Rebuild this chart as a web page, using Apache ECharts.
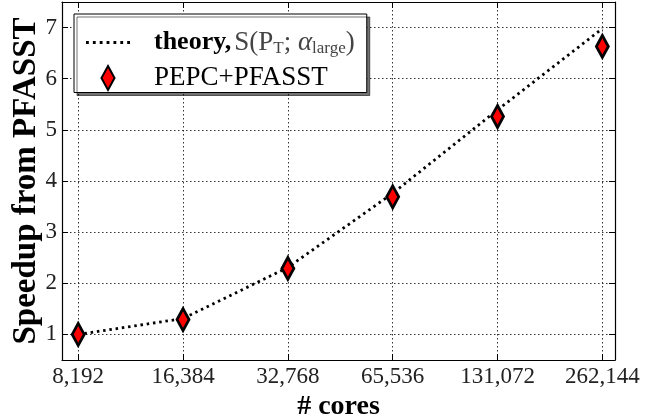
<!DOCTYPE html>
<html>
<head>
<meta charset="utf-8">
<script src="https://cdn.jsdelivr.net/npm/echarts@6/dist/echarts.min.js"></script>
<style>
  html, body { margin: 0; padding: 0; background: #fff; }
  #chart { width: 660px; height: 416px; }
</style>
</head>
<body>
<div id="chart"></div>
<script>
// values
const cores = [8192, 16384, 32768, 65536, 131072, 262144];
const theorySpeedup = [1.0, 1.31, 2.31, 3.76, 5.39, 6.98];
const measuredSpeedup = [1.0, 1.29, 2.29, 3.69, 5.26, 6.63];

const FONT = '"Liberation Serif", "DejaVu Serif", serif';
const DIAMOND = 'path://M6,0L12,11L6,22L0,11Z';
// dotted legend sample for the theory curve
const DOTS = 'path://M0,0h2.6v2.6h-2.6zM6.3,0h2.6v2.6h-2.6zM12.6,0h2.6v2.6h-2.6zM18.9,0h2.6v2.6h-2.6z' +
  'M25.2,0h2.6v2.6h-2.6zM31.5,0h2.6v2.6h-2.6zM37.8,0h2.6v2.6h-2.6z';

function fmtCores(v) {
  return Math.round(v).toLocaleString('en-US');
}

function xAxis(position, main) {
  return {
    type: 'log',
    logBase: 2,
    min: 7360,
    max: 285000,
    position: position,
    name: main ? '# cores' : '',
    nameLocation: 'middle',
    nameGap: 23,
    nameTextStyle: { fontFamily: FONT, fontSize: 28, fontWeight: 'bold', color: '#000' },
    axisLine: { show: true, onZero: false, lineStyle: { color: '#000', width: 1.2 } },
    axisTick: { show: true, inside: true, length: 6, lineStyle: { color: '#000', width: 1 } },
    axisLabel: {
      show: main,
      showMinLabel: false,
      showMaxLabel: false,
      margin: 5,
      fontFamily: FONT,
      fontSize: 23,
      color: '#222',
      formatter: fmtCores
    },
    splitLine: {
      show: main,
      showMinLine: false,
      showMaxLine: false,
      lineStyle: { color: '#333', width: 1, type: [1.5, 2.5] }
    }
  };
}

function yAxis(position, main) {
  return {
    type: 'value',
    min: 0.5,
    max: 7.5,
    splitNumber: 7,
    position: position,
    name: main ? 'Speedup from PFASST' : '',
    nameLocation: 'middle',
    nameGap: 19,
    nameMoveOverlap: false,
    nameTextStyle: { fontFamily: FONT, fontSize: 33, fontWeight: 'bold', color: '#000' },
    axisLine: { show: true, onZero: false, lineStyle: { color: '#000', width: 1.2 } },
    axisTick: { show: true, inside: true, length: 6, lineStyle: { color: '#000', width: 1 } },
    axisLabel: {
      show: main,
      showMinLabel: false,
      showMaxLabel: false,
      margin: 5,
      fontFamily: FONT,
      fontSize: 23,
      color: '#222'
    },
    splitLine: {
      show: main,
      showMinLine: false,
      showMaxLine: false,
      lineStyle: { color: '#333', width: 1, type: [1.5, 2.5] }
    }
  };
}

const chart = echarts.init(document.getElementById('chart'), null, { renderer: 'canvas' });

chart.setOption({
  animation: false,
  backgroundColor: '#fff',
  grid: { left: 62, right: 45, top: 2, bottom: 56, outerBoundsMode: 'none', containLabel: false },
  xAxis: [xAxis('bottom', true), xAxis('top', false)],
  yAxis: [yAxis('left', true), yAxis('right', false)],
  legend: {
    orient: 'vertical',
    left: 74,
    top: 14,
    padding: [15, 12, 1, 12],
    itemGap: 7,
    itemWidth: 44,
    itemHeight: 24,
    backgroundColor: '#fff',
    borderColor: '#000',
    borderWidth: 1,
    borderRadius: 0,
    shadowColor: 'rgba(0,0,0,0.55)',
    shadowOffsetX: 3,
    shadowOffsetY: 3,
    shadowBlur: 0,
    data: [
      { name: 'theory', icon: DOTS },
      { name: 'PEPC+PFASST', icon: DIAMOND }
    ],
    formatter: function (name) {
      if (name === 'theory') {
        return '{b|theory,} {m|S(P}{s|T}{m|; }{i|α}{s|large}{m|)}';
      }
      return '{r|PEPC+PFASST}';
    },
    textStyle: {
      fontFamily: FONT,
      padding: [0, 0, 0, 19],
      rich: {
        b: { fontFamily: FONT, fontSize: 26, fontWeight: 'bold', color: '#000', lineHeight: 30 },
        m: { fontFamily: FONT, fontSize: 27, color: '#444', lineHeight: 30 },
        i: { fontFamily: FONT, fontSize: 27, fontStyle: 'italic', color: '#444', lineHeight: 30 },
        s: { fontFamily: FONT, fontSize: 17, color: '#444', lineHeight: 30, verticalAlign: 'bottom' },
        r: { fontFamily: FONT, fontSize: 27, color: '#000', lineHeight: 30 }
      }
    }
  },
  series: [
    {
      name: 'theory',
      type: 'line',
      xAxisIndex: 0,
      yAxisIndex: 0,
      data: cores.map((c, i) => [c, theorySpeedup[i]]),
      showSymbol: false,
      symbol: 'none',
      lineStyle: { color: '#000', width: 2.8, type: [2.5, 3.8], cap: 'butt' },
      itemStyle: { color: '#000' },
      z: 2
    },
    {
      name: 'PEPC+PFASST',
      type: 'scatter',
      xAxisIndex: 0,
      yAxisIndex: 0,
      data: cores.map((c, i) => [c, measuredSpeedup[i]]),
      symbol: DIAMOND,
      symbolSize: [12, 22],
      itemStyle: { color: '#ff0000', borderColor: '#000', borderWidth: 3, opacity: 1 },
      z: 3
    }
  ]
});
</script>
</body>
</html>
